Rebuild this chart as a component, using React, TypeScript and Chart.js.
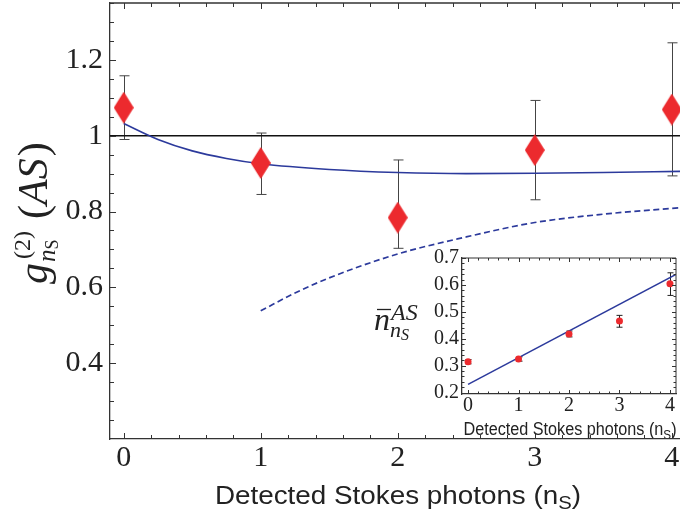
import React, { useEffect, useRef } from "react";
import { Chart, registerables } from "chart.js";
Chart.register(...registerables);

// ---------- main panel data ----------
const nS = [0, 1, 2, 3, 4];
const g2 = [1.074, 0.928, 0.784, 0.962, 1.069];
const g2Low = [0.99, 0.845, 0.703, 0.831, 0.894];
const g2High = [1.158, 1.007, 0.936, 1.093, 1.245];

const theoryX = [0, 0.25, 0.5, 0.75, 1, 1.5, 2, 2.5, 3, 3.5, 4.06];
const theoryY = [1.032, 0.99, 0.96, 0.94, 0.926, 0.911, 0.903, 0.9, 0.901, 0.903, 0.906];

const classicalX = [1, 1.25, 1.5, 2, 2.5, 3, 3.5, 4.06];
const classicalY = [0.538, 0.585, 0.625, 0.688, 0.733, 0.771, 0.793, 0.81];

const refX = [-0.1, 4.06];
const refY = [1, 1];

const xTicks = [0, 1, 2, 3, 4];
const xTickLabels = ["0", "1", "2", "3", "4"];
const yTicks = [0.4, 0.6, 0.8, 1, 1.2];
const yTickLabels = ["0.4", "0.6", "0.8", "1", "1.2"];

// ---------- inset data ----------
const insetN = [0, 1, 2, 3, 4];
const insetMean = [0.315, 0.325, 0.418, 0.466, 0.604];
const insetLow = [0.307, 0.317, 0.407, 0.443, 0.561];
const insetHigh = [0.323, 0.333, 0.429, 0.487, 0.645];
const insetFitX = [0, 4.12];
const insetFitY = [0.231, 0.639];

const insetXTicks = [0, 1, 2, 3, 4];
const insetXTickLabels = ["0", "1", "2", "3", "4"];
const insetYTicks = [0.2, 0.3, 0.4, 0.5, 0.6, 0.7];
const insetYTickLabels = ["0.2", "0.3", "0.4", "0.5", "0.6", "0.7"];

const AXIS_TITLE = "Detected Stokes photons (n";
const AXIS_SUB = "S";

const RED = "#ec2a2e";
const BLUE = "#2c3a9c";
const AXIS = "#333333";
const SERIF = '"Liberation Serif", "DejaVu Serif", serif';
const SANS = '"Liberation Sans", Arial, sans-serif';

function steps(from: number, to: number, step: number): number[] {
  const out: number[] = [];
  const n = Math.round((to - from) / step);
  for (let i = 0; i <= n; i++) out.push(+(from + i * step).toFixed(4));
  return out;
}

function makeDiamond(w: number, h: number, color: string) {
  const c = document.createElement("canvas");
  c.width = w;
  c.height = h;
  const g = c.getContext("2d")!;
  g.fillStyle = color;
  g.beginPath();
  g.moveTo(w / 2, 0);
  g.lineTo(w, h / 2);
  g.lineTo(w / 2, h);
  g.lineTo(0, h / 2);
  g.closePath();
  g.fill();
  return c;
}

function pts(xs: number[], ys: number[]) {
  return xs.map((x, i) => ({ x, y: ys[i] }));
}

function drawErrorBars(ctx: CanvasRenderingContext2D, xs: any, ys: any, xv: number[], lo: number[], hi: number[], cap: number, color: string) {
  ctx.save();
  ctx.strokeStyle = color;
  ctx.lineWidth = 1;
  xv.forEach((v, i) => {
    const px = Math.round(xs.getPixelForValue(v)) + 0.5;
    const yt = ys.getPixelForValue(hi[i]);
    const yb = ys.getPixelForValue(lo[i]);
    ctx.beginPath();
    ctx.moveTo(px, yt);
    ctx.lineTo(px, yb);
    ctx.moveTo(px - cap, yt);
    ctx.lineTo(px + cap, yt);
    ctx.moveTo(px - cap, yb);
    ctx.lineTo(px + cap, yb);
    ctx.stroke();
  });
  ctx.restore();
}

function drawFrameTicks(
  ctx: CanvasRenderingContext2D,
  chart: any,
  xMajor: number[],
  xMinor: number[],
  yMajor: number[],
  yMinor: number[],
  opts: { right: boolean; majorLen: number; minorLen: number; lw: number }
) {
  const a = chart.chartArea;
  const { x, y } = chart.scales;
  ctx.save();
  ctx.strokeStyle = AXIS;
  ctx.lineWidth = opts.lw;
  ctx.beginPath();
  ctx.moveTo(a.left, a.top);
  ctx.lineTo(a.right, a.top);
  if (opts.right) {
    ctx.moveTo(a.right, a.top);
    ctx.lineTo(a.right, a.bottom);
  }
  ctx.stroke();
  ctx.lineWidth = 1;
  ctx.beginPath();
  const xt = (v: number, len: number) => {
    const px = Math.round(x.getPixelForValue(v)) + 0.5;
    ctx.moveTo(px, a.bottom);
    ctx.lineTo(px, a.bottom - len);
    ctx.moveTo(px, a.top);
    ctx.lineTo(px, a.top + len);
  };
  const yt = (v: number, len: number) => {
    const py = Math.round(y.getPixelForValue(v)) + 0.5;
    ctx.moveTo(a.left, py);
    ctx.lineTo(a.left + len, py);
    if (opts.right) {
      ctx.moveTo(a.right, py);
      ctx.lineTo(a.right - len, py);
    }
  };
  xMinor.forEach((v) => xt(v, opts.minorLen));
  xMajor.forEach((v) => xt(v, opts.majorLen));
  yMinor.forEach((v) => yt(v, opts.minorLen));
  yMajor.forEach((v) => yt(v, opts.majorLen));
  ctx.stroke();
  ctx.restore();
}

function drawAxisTitle(ctx: CanvasRenderingContext2D, cx: number, baseline: number, size: number, subSize: number, subDrop: number, sx: number) {
  ctx.save();
  ctx.fillStyle = "#222";
  ctx.textBaseline = "alphabetic";
  ctx.textAlign = "left";
  const f1 = `${size}px ${SANS}`;
  const f2 = `${subSize}px ${SANS}`;
  ctx.font = f1;
  const w1 = ctx.measureText(AXIS_TITLE).width;
  const w3 = ctx.measureText(")").width;
  ctx.font = f2;
  const w2 = ctx.measureText(AXIS_SUB).width;
  const total = w1 + w2 + w3;
  ctx.translate(cx, baseline);
  ctx.scale(sx, 1);
  const x0 = -total / 2;
  ctx.font = f1;
  ctx.fillText(AXIS_TITLE, x0, 0);
  ctx.font = f2;
  ctx.fillText(AXIS_SUB, x0 + w1, subDrop);
  ctx.font = f1;
  ctx.fillText(")", x0 + w1 + w2, 0);
  ctx.restore();
}

const diamond = makeDiamond(20, 32, RED);

function scaleOpts(min: number, max: number, ticks: number[], labels: string[], fontSize: number, pad: number, fit: (s: any) => void) {
  return {
    type: "linear" as const,
    min,
    max,
    grid: { display: false, drawTicks: false },
    border: { display: true, color: AXIS, width: 1.3 },
    afterBuildTicks: (s: any) => {
      s.ticks = ticks.map((v) => ({ value: v }));
    },
    afterFit: (s: any) => {
      fit(s);
      s.paddingTop = 0;
      s.paddingBottom = 0;
      s.paddingLeft = 0;
      s.paddingRight = 0;
    },
    ticks: {
      autoSkip: false,
      maxRotation: 0,
      padding: pad,
      color: "#222",
      font: { family: SERIF, size: fontSize },
      callback: (v: any) => {
        const i = ticks.findIndex((t) => Math.abs(t - v) < 1e-6);
        return i >= 0 ? labels[i] : "";
      },
    },
  };
}

const mainPlugin = {
  id: "mainDecor",
  beforeDatasetsDraw(chart: any) {
    const { ctx, scales } = chart;
    drawErrorBars(ctx, scales.x, scales.y, nS, g2Low, g2High, 5, "#444");
  },
  afterDraw(chart: any) {
    const ctx: CanvasRenderingContext2D = chart.ctx;
    const a = chart.chartArea;
    drawFrameTicks(ctx, chart, xTicks, steps(0, 4, 0.2), yTicks, steps(0.25, 1.35, 0.05), {
      right: false,
      majorLen: 6,
      minorLen: 4,
      lw: 1.3,
    });
    drawAxisTitle(ctx, (a.left + a.right) / 2 + 3, 504, 26, 19, 5, 1.07);
    // y title: g^{(2)}_{n_S}(AS), rotated
    ctx.save();
    ctx.fillStyle = "#222";
    ctx.textAlign = "left";
    ctx.textBaseline = "alphabetic";
    ctx.translate(47, 284);
    ctx.rotate(-Math.PI / 2);
    const big = 42;
    ctx.font = `italic ${big}px ${SERIF}`;
    ctx.fillText("g", 0, 0);
    const gw = ctx.measureText("g").width;
    ctx.font = `24px ${SERIF}`;
    ctx.fillText("(2)", gw + 4, -17);
    const supW = ctx.measureText("(2)").width;
    ctx.font = `italic 25px ${SERIF}`;
    ctx.fillText("n", gw + 1, 8);
    const nw = ctx.measureText("n").width;
    ctx.font = `18px ${SERIF}`;
    ctx.fillText("S", gw + 1 + nw, 11);
    let cx = gw + 4 + supW + 12;
    ctx.font = `${big}px ${SERIF}`;
    ctx.fillText("(", cx, 0);
    cx += ctx.measureText("(").width;
    ctx.font = `italic ${big}px ${SERIF}`;
    ctx.fillText("AS", cx, 0);
    cx += ctx.measureText("AS").width + 2;
    ctx.font = `${big}px ${SERIF}`;
    ctx.fillText(")", cx, 0);
    ctx.restore();
  },
};

const insetPlugin = {
  id: "insetDecor",
  beforeDatasetsDraw(chart: any) {
    const { ctx, scales } = chart;
    drawErrorBars(ctx, scales.x, scales.y, insetN, insetLow, insetHigh, 3, "#222");
  },
  afterDraw(chart: any) {
    const ctx: CanvasRenderingContext2D = chart.ctx;
    const a = chart.chartArea;
    drawFrameTicks(ctx, chart, insetXTicks, steps(0, 4, 0.2), insetYTicks, steps(0.2, 0.7, 0.02), {
      right: true,
      majorLen: 4,
      minorLen: 2.5,
      lw: 1,
    });
    drawAxisTitle(ctx, (a.left + a.right) / 2 + 1, 195, 18, 13, 4, 0.9);
    // y title: n-bar_{n_S}^{AS}
    ctx.save();
    ctx.fillStyle = "#222";
    ctx.textAlign = "left";
    ctx.textBaseline = "alphabetic";
    const x0 = 34;
    const base = 90;
    ctx.font = `italic 32px ${SERIF}`;
    ctx.fillText("n", x0, base);
    const nw = ctx.measureText("n").width;
    ctx.strokeStyle = "#222";
    ctx.lineWidth = 1.3;
    ctx.beginPath();
    ctx.moveTo(x0 + 3, base - 20.5);
    ctx.lineTo(x0 + nw + 1, base - 20.5);
    ctx.stroke();
    ctx.font = `italic 24px ${SERIF}`;
    ctx.fillText("AS", x0 + nw + 1, base - 10);
    ctx.font = `italic 22px ${SERIF}`;
    ctx.fillText("n", x0 + nw, base + 7);
    const snw = ctx.measureText("n").width;
    ctx.font = `italic 16px ${SERIF}`;
    ctx.fillText("S", x0 + nw + snw, base + 10);
    ctx.restore();
  },
};

export default function App() {
  const mainRef = useRef<HTMLCanvasElement>(null);
  const insetRef = useRef<HTMLCanvasElement>(null);

  useEffect(() => {
    const main = new Chart(mainRef.current!, {
      type: "scatter",
      data: {
        datasets: [
          {
            label: "data",
            data: pts(nS, g2),
            pointStyle: diamond as any,
            pointRadius: 12,
            showLine: false,
            order: 0,
          },
          {
            label: "theory",
            data: pts(theoryX, theoryY),
            showLine: true,
            borderColor: BLUE,
            borderWidth: 1.6,
            pointRadius: 0,
            cubicInterpolationMode: "monotone",
            order: 1,
          },
          {
            label: "classical",
            data: pts(classicalX, classicalY),
            showLine: true,
            borderColor: BLUE,
            borderWidth: 1.7,
            borderDash: [6, 3.5],
            pointRadius: 0,
            cubicInterpolationMode: "monotone",
            order: 2,
          },
          {
            label: "ref",
            data: pts(refX, refY),
            showLine: true,
            borderColor: "#111",
            borderWidth: 1.4,
            pointRadius: 0,
            order: 3,
          },
        ],
      },
      options: {
        animation: false,
        responsive: false,
        devicePixelRatio: 1,
        layout: { autoPadding: false, padding: { top: 3, right: 0, left: 0, bottom: 0 } },
        plugins: { legend: { display: false }, tooltip: { enabled: false } },
        scales: {
          x: scaleOpts(-0.1, 4.06, xTicks, xTickLabels, 30, 1, (s: any) => {
            s.height = 79;
          }),
          y: scaleOpts(0.2, 1.35, yTicks, yTickLabels, 30, 7, (s: any) => {
            s.width = 110;
          }),
        },
      },
      plugins: [mainPlugin],
    } as any);

    const inset = new Chart(insetRef.current!, {
      type: "scatter",
      data: {
        datasets: [
          {
            label: "mean",
            data: pts(insetN, insetMean),
            pointStyle: "circle",
            pointRadius: 3.5,
            backgroundColor: RED,
            borderWidth: 0,
            showLine: false,
            order: 0,
          },
          {
            label: "fit",
            data: pts(insetFitX, insetFitY),
            showLine: true,
            borderColor: BLUE,
            borderWidth: 1.5,
            pointRadius: 0,
            order: 1,
          },
        ],
      },
      options: {
        animation: false,
        responsive: false,
        devicePixelRatio: 1,
        layout: { autoPadding: false, padding: { top: 18, right: 4, left: 0, bottom: 0 } },
        plugins: { legend: { display: false }, tooltip: { enabled: false } },
        scales: {
          x: scaleOpts(-0.12, 4.12, insetXTicks, insetXTickLabels, 20, 0, (s: any) => {
            s.height = 44;
          }),
          y: scaleOpts(0.195, 0.7, insetYTicks, insetYTickLabels, 20, 3, (s: any) => {
            s.width = 122;
          }),
        },
      },
      plugins: [insetPlugin],
    } as any);

    return () => {
      main.destroy();
      inset.destroy();
    };
  }, []);

  return (
    <div style={{ position: "fixed", left: 0, top: 0, width: 680, height: 518, background: "#fff" }}>
      <canvas ref={mainRef} width={680} height={518} style={{ position: "absolute", left: 0, top: 0, width: 680, height: 518 }} />
      <canvas ref={insetRef} width={340} height={198} style={{ position: "absolute", left: 340, top: 240, width: 340, height: 198 }} />
    </div>
  );
}
